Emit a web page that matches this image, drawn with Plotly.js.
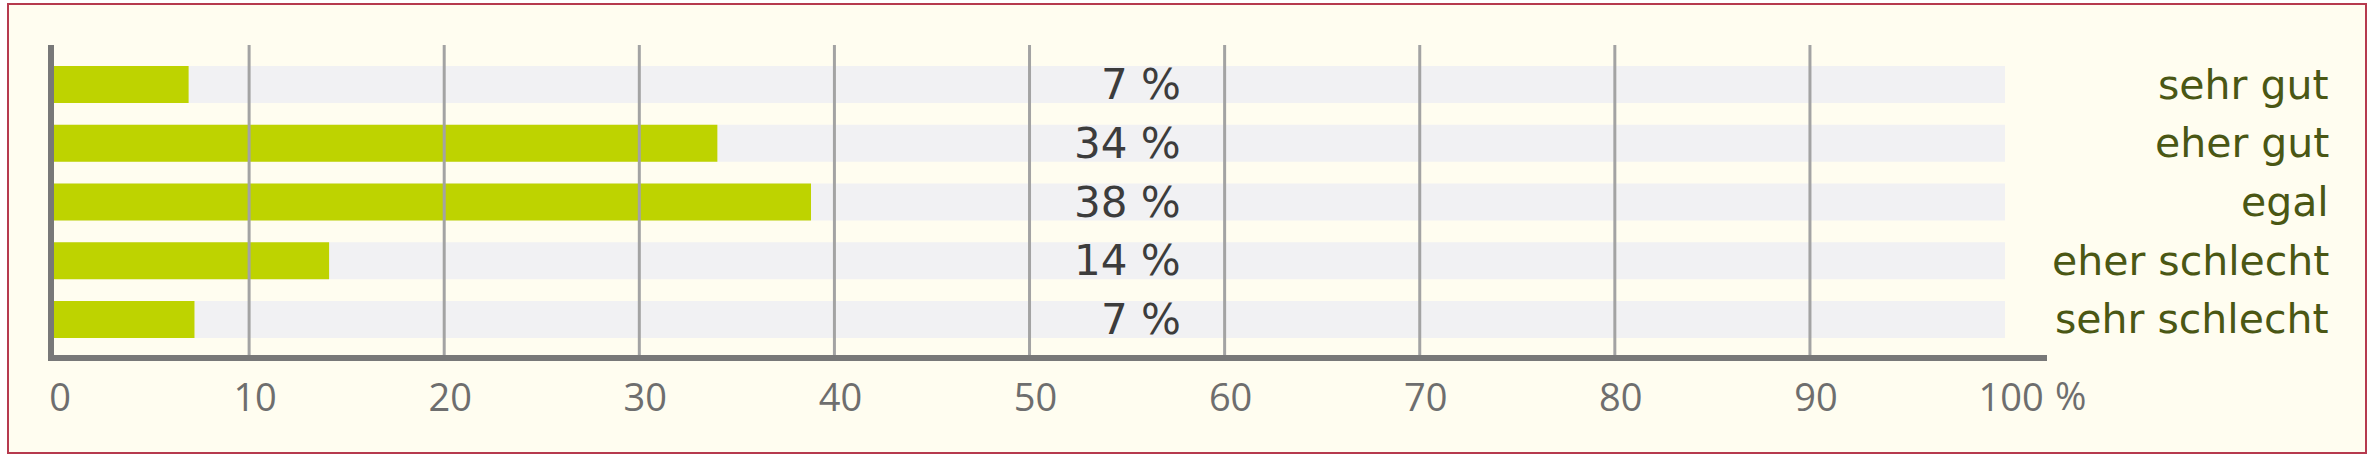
<!DOCTYPE html>
<html>
<head>
<meta charset="utf-8">
<script src="https://cdn.plot.ly/plotly-3.0.1.min.js"></script>
<style>
  html, body { margin: 0; padding: 0; background: #ffffff; width: 2380px; height: 460px; overflow: hidden; }
  #frame { position: absolute; left: 7px; top: 3px; width: 2360px; height: 451px; box-sizing: border-box;
           border: 2px solid #b63a4e; background: #fffdf0; }
  #chart { position: absolute; left: 0; top: 0; width: 2380px; height: 460px; }
</style>
</head>
<body>
<div id="frame"></div>
<div id="chart"></div>
<script>
// ---- data ----
const categories = ['sehr gut', 'eher gut', 'egal', 'eher schlecht', 'sehr schlecht'];
const shares = [6.9, 34.0, 38.8, 14.1, 7.2];
const shareLabels = ['7 %', '34 %', '38 %', '14 %', '7 %'];
const scaleFull = [100, 100, 100, 100, 100];
const tickValues = [0, 10, 20, 30, 40, 50, 60, 70, 80, 90, 100];
const tickLabels = ['0', '10', '20', '30', '40', '50', '60', '70', '80', '90', '100'];
const gridValues = [10, 20, 30, 40, 50, 60, 70, 80, 90];
const unitLabel = '%';

// ---- styles ----
const GREEN = '#bed300';
const TRACK = '#f1f1f3';
const GRID = '#a3a3a3';
const AXIS = '#787878';
const TICKFONT = { family: 'Open Sans', size: 38, color: '#6e6e6e' };

const traces = [
  {
    type: 'bar', orientation: 'h', y: categories, x: scaleFull,
    marker: { color: TRACK }, width: 0.63, hoverinfo: 'skip', showlegend: false
  },
  {
    type: 'bar', orientation: 'h', y: categories, x: shares,
    marker: { color: GREEN }, width: 0.63, hoverinfo: 'skip', showlegend: false
  }
];

const shapes = gridValues.map(v => ({
  type: 'line', xref: 'x', yref: 'paper', x0: v, x1: v, y0: 0, y1: 1,
  line: { color: GRID, width: 3 }, layer: 'above'
}));

const annotations = [];
categories.forEach((c, i) => {
  annotations.push({
    xref: 'paper', yref: 'y', x: 0.5665, y: c, xanchor: 'right', yanchor: 'middle',
    text: shareLabels[i], showarrow: false,
    font: { family: 'DejaVu Sans', size: 42, color: '#3c3c3c' }
  });
  annotations.push({
    xref: 'paper', yref: 'y', x: 1.1425, y: c, xanchor: 'right', yanchor: 'middle',
    text: c, showarrow: false,
    font: { family: 'DejaVu Sans', size: 41, color: '#4a5714' }
  });
});
annotations.push({
  xref: 'x', yref: 'paper', x: 100, y: -0.13, xanchor: 'left', yanchor: 'middle',
  xshift: 48, text: unitLabel, showarrow: false,
  font: TICKFONT
});

const layout = {
  width: 2380, height: 460,
  margin: { l: 54, r: 333, t: 45, b: 105, pad: 0 },
  paper_bgcolor: 'rgba(0,0,0,0)', plot_bgcolor: 'rgba(0,0,0,0)',
  barmode: 'overlay',
  showlegend: false,
  xaxis: {
    range: [0, 102.15], tickmode: 'array', tickvals: tickValues, ticktext: tickLabels,
    showgrid: false, zeroline: false, showline: true, linecolor: AXIS, linewidth: 6,
    ticks: '', ticklabelshift: 6, ticklabelstandoff: 4,
    tickfont: TICKFONT,
    layer: 'above traces', fixedrange: true
  },
  yaxis: {
    type: 'category', categoryorder: 'array', categoryarray: categories,
    range: [4.606, -0.674], showticklabels: false, ticks: '',
    showgrid: false, zeroline: false, showline: true, linecolor: AXIS, linewidth: 6,
    layer: 'above traces', fixedrange: true
  },
  shapes: shapes,
  annotations: annotations
};

Plotly.newPlot('chart', traces, layout, { displayModeBar: false, staticPlot: true });
</script>
</body>
</html>
